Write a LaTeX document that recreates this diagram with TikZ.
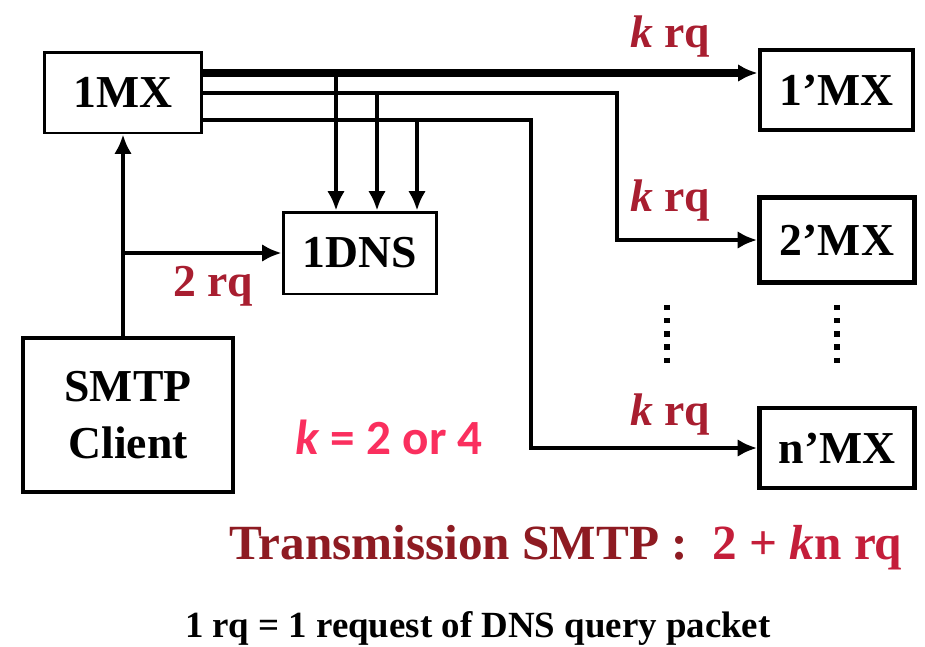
\documentclass[tikz,border=0pt]{standalone}
\usepackage{fontspec}
\setmainfont{Liberation Serif}
\newfontfamily\calfont{Carlito}
\usetikzlibrary{arrows.meta,positioning}

\definecolor{rqred}{HTML}{A81E30}
\definecolor{titred}{HTML}{8E1B22}
\definecolor{sumred}{HTML}{C41E3A}
\definecolor{kpink}{HTML}{FA2F5E}

\begin{document}
\begin{tikzpicture}[
  x=0.02cm, y=-0.02cm,
  >={Latex[length=11pt,width=10pt]},
  every node/.style={font=\fontsize{26}{30}\selectfont\bfseries},
  mxbox/.style={draw, line width=1.7pt, minimum width=3.16cm,
              minimum height=1.62cm, align=center, inner sep=0pt},
  clientbox/.style={draw, line width=2.2pt, minimum width=4.2cm,
              minimum height=3.08cm, align=center, inner sep=0pt,
              font=\fontsize{26}{32}\selectfont\bfseries},
  destbox/.style={draw, line width=2.8pt, minimum width=3.06cm,
              minimum height=1.6cm, align=center, inner sep=0pt},
  link/.style={line width=2.2pt},
  rqlabel/.style={text=rqred, inner sep=0pt},
  dots/.style={line width=3pt, dash pattern=on 3pt off 4.5pt},
]
  \useasboundingbox (0,0) rectangle (925,646);

  \node[mxbox] (mx1) at (123,92.5) {1MX};
  \node[mxbox, minimum width=3.08cm, minimum height=1.64cm]
    (dns) at (360,253) {1DNS};
  \node[clientbox] (client) at (128,415) {SMTP\\Client};

  \node[destbox] (mxa) at (836.5,90) {1’MX};
  \node[destbox, minimum width=3.1cm, minimum height=1.7cm]
    (mxb) at (837,240) {2’MX};
  \node[destbox, minimum width=3.1cm] (mxn) at (837,448) {n’MX};

  % outgoing lines of 1MX
  \coordinate (o1) at (202,73);
  \coordinate (o2) at (202,93);
  \coordinate (o3) at (202,120);
  \coordinate (b2) at (617,93);
  \coordinate (b3) at (531,120);

  \draw[->, line width=4pt] (o1) -- (o1 -| mxa.west);
  \draw[->, link] (o2) -- (b2) |- (mxb.west);
  \draw[->, link] (o3) -- (b3) |- (mxn.west);

  % queries to 1DNS
  \coordinate (d1) at (336,73);
  \coordinate (d2) at (377,93);
  \coordinate (d3) at (417,120);
  \draw[->, link] (d1) -- (d1 |- dns.north);
  \draw[->, link] (d2) -- (d2 |- dns.north);
  \draw[->, link] (d3) -- (d3 |- dns.north);

  % client side
  \draw[->, line width=2.8pt] (client.north -| mx1.south) -- (mx1.south);
  \draw[->, link] (mx1 |- dns.west) -- (dns.west);

  \draw[dots] ([yshift=-0.4cm]mxb.south) -- ([yshift=0.72cm]mxn.north);
  \draw[dots] ([xshift=-3.4cm,yshift=-0.4cm]mxb.south)
    -- ([xshift=-3.4cm,yshift=0.72cm]mxn.north);

  \node[rqlabel] (lab1) at (670,37) {\textit{k} rq};
  \node[rqlabel] (lab2) at (670,201) {\textit{k} rq};
  \node[rqlabel] (lab3) at (670,415) {\textit{k} rq};
  \node[rqlabel] (lab0) at (213,286) {2 rq};

  \node[text=kpink, font=\calfont\fontsize{28}{32}\selectfont\bfseries]
    (keq) at (389,437) {\textit{k} = 2 or 4};

  \node[font=\fontsize{28}{32}\selectfont\bfseries] (total) at (566,548)
    {\textcolor{titred}{Transmission SMTP :}\ \ \textcolor{sumred}{2 + \textit{k}n rq}};

  \node[font=\fontsize{21}{24}\selectfont\bfseries] (note) at (478,628)
    {1 rq = 1 request of DNS query packet};
\end{tikzpicture}
\end{document}
